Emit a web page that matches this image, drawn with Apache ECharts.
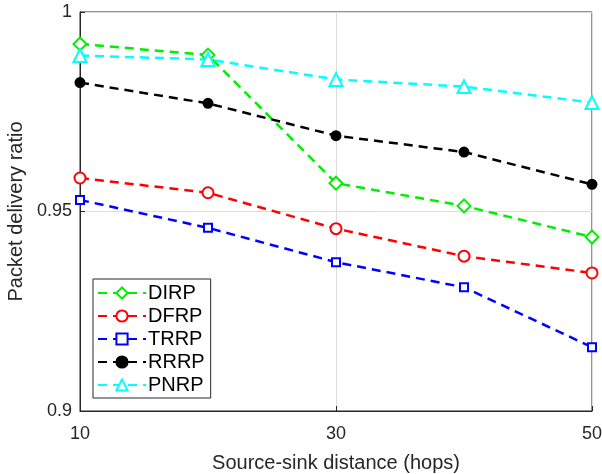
<!DOCTYPE html>
<html>
<head>
<meta charset="utf-8">
<script src="https://cdn.jsdelivr.net/npm/echarts@6/dist/echarts.min.js"></script>
<style>
  html, body { margin: 0; padding: 0; background: #fff; }
  #chart { width: 602px; height: 474px; }
</style>
</head>
<body>
<div id="chart"></div>
<script>
// hops on the x axis
var hops = [10, 20, 30, 40, 50];
// packet delivery ratio per protocol
var dirp = [0.992, 0.9892, 0.9571, 0.9514, 0.9436];
var dfrp = [0.9584, 0.9547, 0.9457, 0.9388, 0.9346];
var trrp = [0.9529, 0.9459, 0.9373, 0.9310, 0.9160];
var rrrp = [0.9823, 0.9771, 0.9690, 0.9649, 0.9568];
var pnrp = [0.9891, 0.9881, 0.9831, 0.9813, 0.9773];

var chart = echarts.init(document.getElementById('chart'));

var pairs = function (ys) {
    var out = [];
    ys.forEach(function (y, i) {
        out.push([hops[i], y]);
    });
    return out;
};

var makeSeries = function (name, ys, color, symbol, size) {
    return {
        name: name,
        type: 'line',
        data: pairs(ys),
        symbol: symbol,
        symbolSize: size,
        showAllSymbol: true,
        lineStyle: { color: color, width: 2.5, type: [9, 6] },
        itemStyle: { color: color, borderColor: color, borderWidth: 2 },
        emphasis: { disabled: true },
        animation: false
    };
};

var fontName = 'Arial, Liberation Sans, sans-serif';
var tickFont = { fontFamily: fontName, fontSize: 18, color: '#262626' };
var nameFont = { fontFamily: fontName, fontSize: 20, color: '#262626' };

var option = {
    backgroundColor: '#fff',
    grid: {
        left: 80, right: 10, top: 12, bottom: 63,
        outerBoundsMode: 'none',
        containLabel: false,
        show: true, borderColor: '#262626', borderWidth: 1
    },
    legend: {
        orient: 'vertical',
        left: 93, top: 279,
        padding: [4, 6, 3, 4],
        itemGap: 3,
        itemWidth: 48,
        itemHeight: 14,
        borderColor: '#262626',
        borderWidth: 1,
        backgroundColor: '#fff',
        textStyle: { fontFamily: fontName, fontSize: 20, color: '#000', padding: [0, 0, 0, -3] },
        data: ['DIRP', 'DFRP', 'TRRP', 'RRRP', 'PNRP']
    },
    xAxis: {
        type: 'value',
        min: 10, max: 50, interval: 20,
        name: 'Source-sink distance (hops)',
        nameLocation: 'middle',
        nameGap: 42,
        nameTextStyle: nameFont,
        axisLine: { lineStyle: { color: '#262626' } },
        axisTick: { inside: true, length: 5, lineStyle: { color: '#262626' } },
        axisLabel: Object.assign({ margin: 14 }, tickFont),
        splitLine: { show: true, lineStyle: { color: '#dcdcdc' } }
    },
    yAxis: {
        type: 'value',
        min: 0.9, max: 1, interval: 0.05,
        name: 'Packet delivery ratio',
        nameLocation: 'middle',
        nameGap: 50,
        nameTextStyle: nameFont,
        axisLine: { show: true, lineStyle: { color: '#262626' } },
        axisTick: { show: true, inside: true, length: 5, lineStyle: { color: '#262626' } },
        axisLabel: Object.assign({ margin: 8 }, tickFont),
        splitLine: { show: true, lineStyle: { color: '#dcdcdc' } }
    },
    series: [
        makeSeries('DIRP', dirp, '#00ee00', 'emptyDiamond', 13),
        makeSeries('DFRP', dfrp, '#ff0000', 'emptyCircle', 11),
        makeSeries('TRRP', trrp, '#0000ff', 'emptyRect', 8),
        makeSeries('RRRP', rrrp, '#000000', 'circle', 9),
        makeSeries('PNRP', pnrp, '#00ffff', 'emptyTriangle', 13)
    ]
};
chart.setOption(option);
</script>
</body>
</html>
